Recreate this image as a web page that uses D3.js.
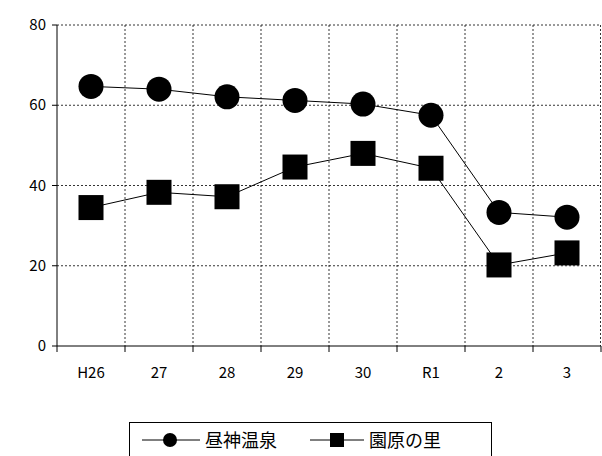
<!DOCTYPE html>
<html><head><meta charset="utf-8">
<script src="https://cdn.jsdelivr.net/npm/d3@7"></script>
<style>body{margin:0;background:#fff}text{font-family:"Noto Sans CJK JP","Liberation Sans",sans-serif;font-size:15px}</style>
</head><body><svg id="c" width="602" height="456"></svg>
<script>
var categories = ["H26","27","28","29","30","R1","2","3"];
var hirugami = [64.7, 64.0, 62.1, 61.2, 60.3, 57.5, 33.3, 32.1];
var sonohara = [34.5, 38.3, 37.2, 44.6, 48.0, 44.3, 20.2, 23.2];
var yTicks = [0,20,40,60,80];

var svg = d3.select("#c");
var pL = 57, pR = 601, pT = 25, pB = 346;
var x = d3.scaleBand().domain(categories).range([pL,pR]);
var y = d3.scaleLinear().domain([0,80]).range([pB,pT]);

// grid
svg.selectAll(".hg").data(yTicks.slice(1)).join("line")
  .attr("x1",pL).attr("x2",pR).attr("y1",d=>y(d)).attr("y2",d=>y(d))
  .attr("stroke","#000").attr("stroke-width",0.8).attr("stroke-dasharray","2,2");
svg.selectAll(".vg").data(categories.slice(1)).join("line")
  .attr("x1",d=>x(d)).attr("x2",d=>x(d)).attr("y1",pT).attr("y2",pB)
  .attr("stroke","#000").attr("stroke-width",0.8).attr("stroke-dasharray","2,2");
svg.append("line").attr("x1",pR-0.5).attr("x2",pR-0.5).attr("y1",pT).attr("y2",pB)
  .attr("stroke","#000").attr("stroke-width",0.8).attr("stroke-dasharray","2,2");

// axes
svg.append("line").attr("x1",pL).attr("x2",pL).attr("y1",pT).attr("y2",pB).attr("stroke","#000");
svg.append("line").attr("x1",pL).attr("x2",pR).attr("y1",pB).attr("y2",pB).attr("stroke","#000");
svg.selectAll(".yt").data(yTicks).join("line")
  .attr("x1",pL-5).attr("x2",pL).attr("y1",d=>y(d)).attr("y2",d=>y(d)).attr("stroke","#000");
svg.selectAll(".xt").data(categories.concat(["end"])).join("line")
  .attr("x1",(d,i)=>pL+i*x.bandwidth()).attr("x2",(d,i)=>pL+i*x.bandwidth())
  .attr("y1",pB).attr("y2",pB+6).attr("stroke","#000");
svg.selectAll(".yl").data(yTicks).join("text")
  .attr("x",pL-11).attr("y",d=>y(d)+5).attr("text-anchor","end").text(d=>d);
svg.selectAll(".xl").data(categories).join("text")
  .attr("x",d=>x(d)+x.bandwidth()/2).attr("y",pB+32).attr("text-anchor","middle").text(d=>d);

var cx = d=>x(d)+x.bandwidth()/2;
var line = d3.line().x((d,i)=>cx(categories[i])).y(d=>y(d));
svg.append("path").attr("d",line(hirugami)).attr("fill","none").attr("stroke","#000");
svg.append("path").attr("d",line(sonohara)).attr("fill","none").attr("stroke","#000");
svg.selectAll(".c").data(hirugami).join("circle")
  .attr("cx",(d,i)=>cx(categories[i])).attr("cy",d=>y(d)).attr("r",12.5);
svg.selectAll(".s").data(sonohara).join("rect")
  .attr("x",(d,i)=>cx(categories[i])-12.5).attr("y",d=>y(d)-12.5).attr("width",25).attr("height",25);

// legend
var lg = svg.append("g");
lg.append("rect").attr("x",129.5).attr("y",422.5).attr("width",362).attr("height",40).attr("fill","#fff").attr("stroke","#000");
lg.append("line").attr("x1",142).attr("x2",200).attr("y1",440).attr("y2",440).attr("stroke","#000");
lg.append("circle").attr("cx",170).attr("cy",440).attr("r",7);
lg.append("text").attr("x",205).attr("y",447).style("font-size","18px").text("昼神温泉");
lg.append("line").attr("x1",310).attr("x2",364).attr("y1",440).attr("y2",440).attr("stroke","#000");
lg.append("rect").attr("x",330).attr("y",433).attr("width",14).attr("height",14);
lg.append("text").attr("x",369).attr("y",447).style("font-size","18px").text("園原の里");
</script></body></html>
